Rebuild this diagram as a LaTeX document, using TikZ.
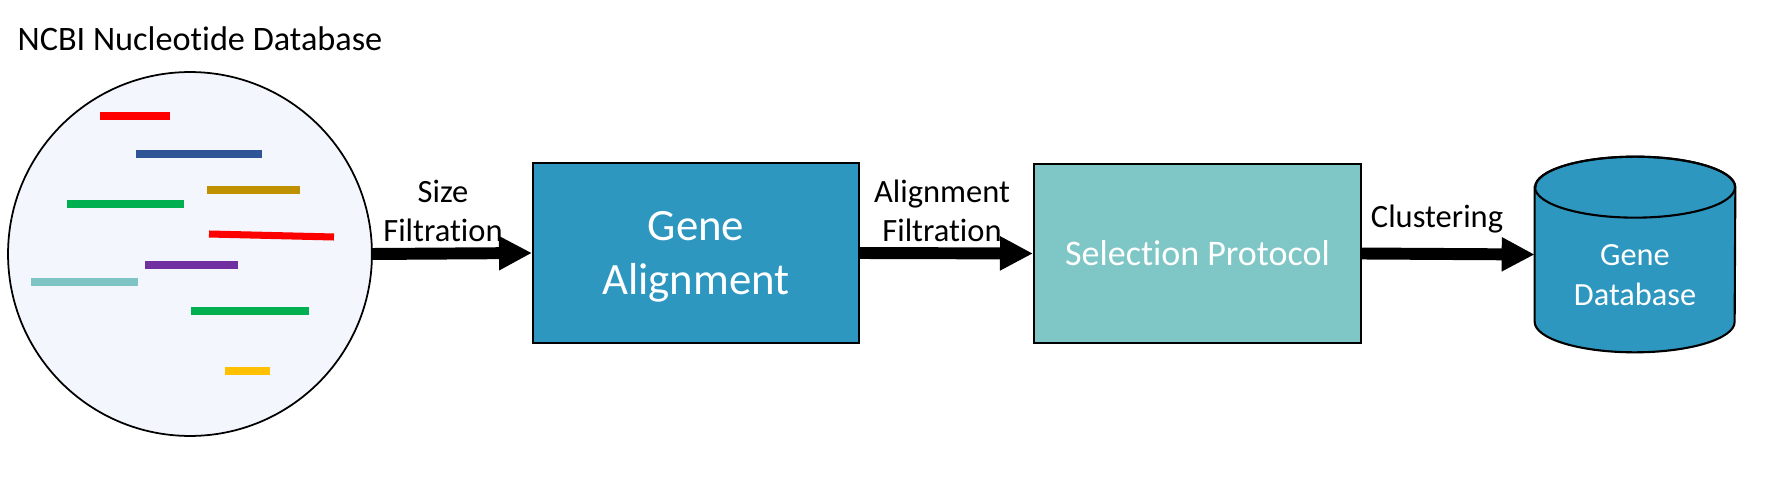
\documentclass[tikz,border=0pt]{standalone}
\usepackage{fontspec}
\setmainfont{Carlito}[Ligatures=NoCommon]
\usetikzlibrary{arrows.meta, calc}

\definecolor{ncbifill}{HTML}{F3F6FC}
\definecolor{alignblue}{HTML}{2E97C0}
\definecolor{selteal}{HTML}{7FC6C6}
\definecolor{sred}{HTML}{FF0000}
\definecolor{sblue}{HTML}{2F5597}
\definecolor{sgold}{HTML}{BF9000}
\definecolor{sgreen}{HTML}{00B050}
\definecolor{spurple}{HTML}{7030A0}
\definecolor{steal}{HTML}{7FC4C4}
\definecolor{syellow}{HTML}{FFC000}

\begin{document}
\begin{tikzpicture}[x=0.02cm, y=0.02cm,
  flow/.style={line width=6.8pt, -{Triangle[length=0.66cm, width=0.64cm]}},
  stage/.style={draw=black, line width=1.2pt, text=white, align=center, inner sep=0pt},
  lbl/.style={align=center, font=\fontsize{18.5}{22}\selectfont}]
  \useasboundingbox (0,0) rectangle (1767,497);
  \node[font=\fontsize{19.5}{23}\selectfont] (title) at (200,458) {NCBI Nucleotide Database};
  \node[circle, draw, fill=ncbifill, line width=1pt, minimum size=7.28cm] (ncbi) at (190,243) {};
  \foreach \col/\xa/\xb/\ya/\yb in {sred/100/170/381/381, sblue/136/262/343/343,
      sgold/207/300/307/307, sgreen/67/184/293/293, sred/209/334/263/260,
      spurple/145/238/232/232, steal/31/138/215/215, sgreen/191/309/186/186,
      syellow/225/270/126/126}{
    \draw[\col, line width=4pt] (\xa,\ya)--(\xb,\yb);
  }
  \node[stage, fill=alignblue, minimum width=6.52cm, minimum height=3.6cm, text depth=0pt,
    font=\fontsize{25.5}{31}\selectfont] (align) at (696,244) {Gene\\Alignment};
  \node[stage, fill=selteal, minimum width=6.54cm, minimum height=3.58cm,
    font=\fontsize{20.5}{24}\selectfont] (select) at (1197.5,243.5) {Selection Protocol};
  % gene database cylinder
  \node[minimum width=4cm, minimum height=3.9cm, inner sep=0pt] (genedb) at (1635,242.5) {};
  \draw[line width=1.2pt, fill=alignblue] ($(genedb.north west)+(0,-30.5)$)
    -- ($(genedb.south west)+(0,30.5)$) arc[start angle=180, end angle=360, x radius=2cm, y radius=0.61cm]
    -- ($(genedb.north east)+(0,-30.5)$) arc[start angle=0, end angle=180, x radius=2cm, y radius=0.61cm] -- cycle;
  \draw[line width=1.2pt] ($(genedb.north)+(0,-30.5)$) ellipse[x radius=2cm, y radius=0.61cm];
  \node[text=white, align=center, font=\fontsize{18.4}{23}\selectfont] (genedbtxt) at (1635,222) {Gene\\Database};
  \draw[flow] ($(ncbi.east)+(-2,0)$) -- (align.west);
  \draw[flow] (align.east) -- (select.west);
  \draw[flow] (select.east) -- (genedb.west);
  \node[lbl] (sizelbl) at (443,286) {Size\\Filtration};
  \node[lbl] (alnlbl) at (942,286) {Alignment\\Filtration};
  \node[lbl] (clustlbl) at (1437,278) {Clustering};
\end{tikzpicture}
\end{document}
